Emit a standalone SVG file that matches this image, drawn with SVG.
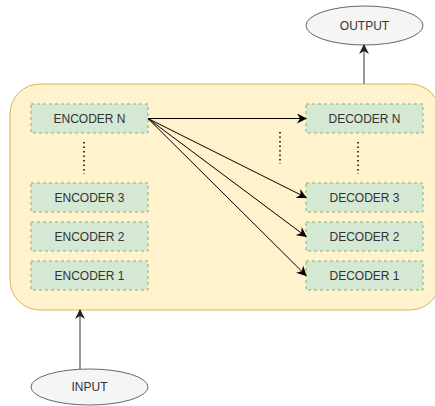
<svg xmlns="http://www.w3.org/2000/svg" width="435" height="406" viewBox="0 0 435 406">
  <style>
    .block { fill: #d5e8d4; stroke: #82b366; stroke-width: 1; stroke-dasharray: 3 3; }
    .term { fill: #f5f5f5; stroke: #666666; stroke-width: 1; }
    .lbl { font-family: "Liberation Sans", Arial, sans-serif; font-size: 12px; fill: #333333; text-anchor: middle; dominant-baseline: central; }
    .link { stroke: #000000; stroke-width: 1; fill: none; marker-end: url(#arrow); }
    .io { stroke: #555555; stroke-width: 1.2; fill: none; marker-end: url(#arrowGray); }
    .dots { stroke: #000000; stroke-width: 1.5; stroke-dasharray: 1.5 3; fill: none; }
  </style>
  <defs>
    <marker id="arrow" viewBox="0 0 10 10" refX="9" refY="5" markerWidth="10" markerHeight="10" markerUnits="userSpaceOnUse" orient="auto">
      <path d="M0,0 L10,5 L0,10 L3,5 Z" fill="#000000"/>
    </marker>
    <marker id="arrowGray" viewBox="0 0 10 10" refX="9" refY="5" markerWidth="10" markerHeight="10" markerUnits="userSpaceOnUse" orient="auto">
      <path d="M0,0 L10,5 L0,10 L3,5 Z" fill="#222222"/>
    </marker>
  </defs>

  <!-- transformer container -->
  <g id="container">
    <rect x="10" y="84" width="430" height="226" rx="30" ry="30" fill="#fff2cc" stroke="#d6b656" stroke-width="1"/>
  </g>

  <!-- encoder stack -->
  <g id="encoder-n">
    <rect class="block" x="31" y="104" width="117" height="29"/>
    <text class="lbl" x="89.5" y="118.5">ENCODER N</text>
  </g>
  <g id="encoder-3">
    <rect class="block" x="31" y="183" width="117" height="29"/>
    <text class="lbl" x="89.5" y="197.5">ENCODER 3</text>
  </g>
  <g id="encoder-2">
    <rect class="block" x="31" y="222" width="117" height="29"/>
    <text class="lbl" x="89.5" y="236.5">ENCODER 2</text>
  </g>
  <g id="encoder-1">
    <rect class="block" x="31" y="261" width="117" height="29"/>
    <text class="lbl" x="89.5" y="275.5">ENCODER 1</text>
  </g>

  <!-- decoder stack -->
  <g id="decoder-n">
    <rect class="block" x="306" y="104" width="117" height="29"/>
    <text class="lbl" x="364.5" y="118.5">DECODER N</text>
  </g>
  <g id="decoder-3">
    <rect class="block" x="306" y="183" width="117" height="29"/>
    <text class="lbl" x="364.5" y="197.5">DECODER 3</text>
  </g>
  <g id="decoder-2">
    <rect class="block" x="306" y="222" width="117" height="29"/>
    <text class="lbl" x="364.5" y="236.5">DECODER 2</text>
  </g>
  <g id="decoder-1">
    <rect class="block" x="306" y="261" width="117" height="29"/>
    <text class="lbl" x="364.5" y="275.5">DECODER 1</text>
  </g>

  <!-- input / output terminals -->
  <g id="input">
    <ellipse class="term" cx="89.5" cy="387" rx="58.5" ry="18"/>
    <text class="lbl" x="89.5" y="387">INPUT</text>
  </g>
  <g id="output">
    <ellipse class="term" cx="364.5" cy="25.5" rx="58.5" ry="19.5"/>
    <text class="lbl" x="364.5" y="25.5">OUTPUT</text>
  </g>

  <!-- ellipsis markers between stacked layers -->
  <g id="ellipses">
    <line class="dots" x1="84" y1="142" x2="84" y2="174"/>
    <line class="dots" x1="280" y1="132" x2="280" y2="164"/>
    <line class="dots" x1="358" y1="142" x2="358" y2="174"/>
  </g>

  <!-- connectors -->
  <g id="connectors">
    <line class="link" x1="148" y1="118.5" x2="306" y2="118.5"/>
    <line class="link" x1="148" y1="118.5" x2="306" y2="197.5"/>
    <line class="link" x1="148" y1="118.5" x2="306" y2="236.5"/>
    <line class="link" x1="148" y1="118.5" x2="306" y2="275.5"/>
    <line class="io" x1="80" y1="369" x2="80" y2="310"/>
    <line class="io" x1="364" y1="84" x2="364" y2="45"/>
  </g>
</svg>
